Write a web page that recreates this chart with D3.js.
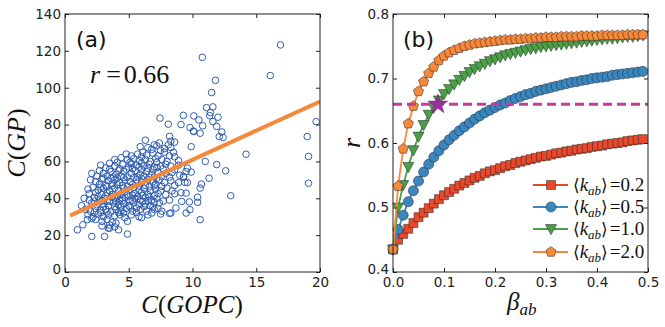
<!DOCTYPE html>
<html><head><meta charset="utf-8">
<script src="https://cdn.jsdelivr.net/npm/d3@7"></script>
<style>body{margin:0;background:#fff}svg{display:block}</style></head>
<body><svg id="c" width="665" height="327"></svg>
<script>
// ---------- Panel (a) data ----------
const scatterPts = [
 [10.77,116.5],[16.9,123.2],[16.1,106.6],[11.8,104],[11.5,97.4],[11.1,89.2],[11.6,89.6],[11.4,86.5],[11.35,84.8],[12.0,84],
 [11.6,81.6],[11.9,79],[12.3,76],[12.1,73.5],[12.4,73],[10.1,84.7],[10.5,82.5],[10.8,79.3],[10.07,76.5],[9.8,78.4],
 [9.28,85],[9.1,80],[10.6,75.3],[10.1,76.2],[7.45,83.5],[8.1,80.2],[19.7,81.6],[19.0,73.5],[19.1,62.7],[19.1,48.2],
 [14.2,63.9],[13.0,41.4],[12.6,54.9],[11.9,58.3],[11.3,50.9],[11.0,60],[10.7,47.7],[10.6,45.5],[10.4,40.6],[10.4,37.8],
 [10.6,28.4],[9.9,54.2],[9.9,68],[9.6,56.4],[9.3,51.8],[9.4,48.6],[9.5,42.8],[9.15,38.3],[9.75,38],[9.8,33.8],
 [9.5,32],[8.7,34.7],[8.3,32],[0.97,22.9],[1.4,25.6],[2.1,19.3],[3.1,19.3],[4.9,20.6],[4.2,22.9],[3.5,23.8],
 [1.3,36],[1.75,28.4],[8.2,73.6],[8.3,71],
 [6.3,71.5],[7.4,70],[7.0,69],[8.6,70.5],[5.9,68],[6.5,67.5],[7.2,68.5],[7.8,67],[8.1,69],[6.8,66.5],[7.5,66],[8.3,67.5],
 [5.2,63],[5.7,64],[6.1,65],[6.4,63.5],[6.9,64.5],[7.3,63],[7.8,65],[8.2,63],[8.6,62.5],[4.8,64],[6.0,62.5],[7.1,61.5],[8.5,65],
 [3.9,61],[4.4,62],[4.9,61],[5.4,61.5],[5.8,60.5],[6.3,61],[6.7,60],[7.6,61],[8.0,60],[8.9,60.5],[4.1,59.5],[5.1,59.5],[6.0,59],[7.2,59.5],[7.9,58.5],
 [2.8,58],[3.5,59],[3.9,57.5],[4.5,58.5],[5.0,57],[5.6,58],[6.2,57.5],[6.6,58.5],[7.0,57],[7.5,57.5],[8.3,57.5],[8.9,58],[3.2,56.5],[4.3,56],[5.3,56],[6.0,55.5],[6.9,55.5],[7.7,56],[8.6,55.5],
 [2.1,53.5],[2.7,55],[3.0,53.5],[3.6,54.5],[4.0,53],[4.6,54.5],[5.2,53.5],[5.5,55],[5.9,53],[6.4,54.5],[6.8,53],[7.3,54],[7.9,53.5],[8.4,54],[9.0,52.5],[9.5,54.5],
 [2.5,52],[3.3,52],[3.8,51.5],[4.4,52],[4.9,51.5],[5.7,51.5],[6.2,52],[7.0,51.5],[7.6,52],[8.2,51.5],[9.3,51.5],
 [2.0,50],[2.4,49],[2.9,50.5],[3.4,49.5],[3.9,50],[4.3,48.5],[4.7,50],[5.1,49],[5.6,50],[6.0,48.5],[6.5,50],[6.9,49],[7.4,50],[7.8,48.5],[8.3,49.5],[8.9,48.5],[9.6,48.5],
 [2.7,47.5],[3.2,47],[3.7,48],[4.5,47],[5.3,47.5],[6.3,47],[7.1,47.5],[7.6,46.5],[8.6,47],
 [1.8,45],[2.2,46],[2.6,44.5],[3.0,45.5],[3.5,44],[3.9,45.5],[4.2,44],[4.6,45.5],[5.0,44.5],[5.4,46],[5.8,44.5],[6.2,45.5],[6.7,44],[7.1,45],[7.5,44],[8.0,45.5],[8.4,44],[9.1,43],
 [1.9,42.5],[2.4,43],[2.9,42],[3.3,43],[3.7,42],[4.4,42.5],[4.9,42],[5.5,42.5],[6.0,43],[6.5,42],[7.3,42.5],[7.9,42],[8.6,42.5],
 [1.5,40],[1.9,39],[2.3,40.5],[2.7,39],[3.1,40],[3.5,38.5],[3.9,40],[4.3,39],[4.7,40.5],[5.1,38.5],[5.5,40],[5.9,39],[6.3,40.5],[6.8,39],[7.2,40],[7.7,38.5],[8.2,39],
 [2.1,37.5],[2.5,36.5],[3.0,37],[3.4,36],[3.8,37.5],[4.2,36.5],[4.6,37],[5.0,36],[5.4,37.5],[5.8,36.5],[6.3,37],[6.7,36],[7.4,37.5],
 [1.6,34],[2.0,33],[2.4,34.5],[2.8,33.5],[3.2,34],[3.6,32.5],[4.0,34],[4.4,33],[4.8,34.5],[5.3,33],[5.9,34],[6.4,33],[7.0,34],[7.6,33],[8.2,31.8],
 [1.8,31],[2.2,30],[2.6,31.5],[3.0,30],[3.4,31],[3.9,30.5],[4.3,31],[4.7,29.5],[5.2,31],[5.8,30],[6.0,29.5],[2.4,28.5],[2.9,27.5],[3.3,28.5],[3.7,27],[4.9,27.5],[2.1,29],[3.5,25.5],[4.0,26.5],
 [2.9,25],[3.4,23.8],[3.9,24.5],
 [2.6,41],[3.2,41.5],[3.7,40.8],[4.1,41.2],[4.5,40.2],[5.0,41],[5.3,41.7],[5.7,41],[6.1,41.4],[6.6,40.8],[7.0,41.5],
 [2.8,46],[3.3,46.3],[3.7,46.7],[4.1,47.5],[4.9,46.5],[5.8,46.7],[6.6,46.2],[7.0,46.8],
 [3.0,51],[3.6,50.8],[4.1,51],[4.6,51.3],[5.4,51.2],[6.0,50.8],[6.6,51.5],[7.2,50.8],
 [3.5,55.8],[4.2,55],[4.8,55.7],[5.2,58.8],[5.8,56.9],[6.5,56.3],[7.2,56.6],
 [2.3,38.5],[2.9,38.7],[3.3,38.2],[4.0,38.3],[4.5,38.7],[5.3,38.8],[6.1,38.2],[6.5,38.7],[7.0,37.8],
 [3.0,35.2],[3.9,35.5],[4.4,35.2],[5.1,35.3],[5.6,34.8],[6.2,35.5],[6.9,35.3],
 [2.3,32.5],[2.8,32.2],[3.3,32.6],[4.2,32.3],[4.6,32],[5.6,32.3],[6.8,32],[6.5,31],[7.5,31.5],[7.3,34.5]
];
const fitX = [0.4, 20];
const fitY = [30.6, 92.5];
const aXTicks = [0, 5, 10, 15, 20];
const aYTicks = [0, 20, 40, 60, 80, 100, 120, 140];

// ---------- Panel (b) data ----------
const betas = [0.00,0.01,0.02,0.03,0.04,0.05,0.06,0.07,0.08,0.09,0.10,0.11,0.12,0.13,0.14,0.15,0.16,0.17,0.18,0.19,
 0.20,0.21,0.22,0.23,0.24,0.25,0.26,0.27,0.28,0.29,0.30,0.31,0.32,0.33,0.34,0.35,0.36,0.37,0.38,0.39,
 0.40,0.41,0.42,0.43,0.44,0.45,0.46,0.47,0.48,0.49];
const rK02 = [0.435,0.450,0.459,0.467,0.476,0.485,0.492,0.499,0.506,0.513,0.519,0.524,0.529,0.534,0.538,0.542,0.546,0.549,0.553,0.556,
 0.558,0.561,0.564,0.566,0.569,0.571,0.573,0.575,0.577,0.579,0.580,0.582,0.584,0.585,0.587,0.588,0.590,0.591,0.592,0.594,
 0.595,0.596,0.598,0.599,0.600,0.601,0.603,0.604,0.605,0.606];
const rK05 = [0.435,0.466,0.488,0.509,0.526,0.541,0.555,0.567,0.578,0.588,0.597,0.605,0.612,0.619,0.625,0.631,0.637,0.642,0.647,0.651,
 0.655,0.659,0.662,0.666,0.669,0.672,0.675,0.677,0.680,0.682,0.684,0.686,0.688,0.690,0.692,0.694,0.695,0.697,0.698,0.700,
 0.701,0.702,0.703,0.705,0.706,0.707,0.708,0.709,0.710,0.711];
const rK10 = [0.435,0.500,0.535,0.563,0.589,0.610,0.628,0.644,0.655,0.666,0.676,0.684,0.691,0.698,0.704,0.710,0.715,0.719,0.723,0.727,
 0.730,0.733,0.736,0.738,0.740,0.742,0.744,0.746,0.747,0.749,0.750,0.751,0.752,0.753,0.754,0.755,0.756,0.757,0.758,0.759,
 0.760,0.761,0.762,0.762,0.763,0.764,0.765,0.765,0.766,0.767];
const rK20 = [0.435,0.533,0.591,0.630,0.657,0.680,0.695,0.708,0.718,0.728,0.735,0.740,0.744,0.747,0.750,0.752,0.754,0.755,0.756,0.757,
 0.758,0.759,0.760,0.760,0.761,0.761,0.762,0.762,0.763,0.763,0.764,0.764,0.764,0.765,0.765,0.765,0.765,0.766,0.766,0.766,
 0.766,0.767,0.767,0.767,0.767,0.767,0.768,0.768,0.768,0.768];
const seriesNames = ["0.2", "0.5", "1.0", "2.0"];
const seriesColors = ["#e8482c", "#3a87c0", "#4aa047", "#f7883a"];
const bXTicks = [0, 0.1, 0.2, 0.3, 0.4, 0.5];
const bYTicks = [0.4, 0.5, 0.6, 0.7, 0.8];
const threshold = 0.66;
const starPoint = [0.088, 0.66];

// ---------- Drawing ----------
const svg = d3.select("#c");
const tickFont = "'DejaVu Sans', sans-serif";
const serif = "'Liberation Serif', 'DejaVu Serif', serif";

function frameAxes(g, x, y, xt, yt, xfmt, yfmt) {
  const [x0, x1] = x.range(), [y0, y1] = y.range();
  const b = g.append("g").attr("transform", `translate(0,${y0})`)
    .call(d3.axisBottom(x).tickValues(xt).tickSize(-4).tickSizeOuter(0).tickPadding(5).tickFormat(xfmt));
  const l = g.append("g").attr("transform", `translate(${x0},0)`)
    .call(d3.axisLeft(y).tickValues(yt).tickSize(-4).tickSizeOuter(0).tickPadding(4).tickFormat(yfmt));
  const t = g.append("g").attr("transform", `translate(0,${y1})`)
    .call(d3.axisTop(x).tickValues(xt).tickSize(-4).tickSizeOuter(0).tickFormat(""));
  const r = g.append("g").attr("transform", `translate(${x1},0)`)
    .call(d3.axisRight(y).tickValues(yt).tickSize(-4).tickSizeOuter(0).tickFormat(""));
  [b, l, t, r].forEach(a => {
    a.select(".domain").remove();
    a.selectAll("line").attr("stroke", "#222");
    a.selectAll("text").attr("font-family", tickFont).attr("font-size", 13.5).attr("fill", "#222");
  });
  // lift the lowest y label slightly so it does not touch the first x label
  l.selectAll(".tick").filter(d => d === yt[0]).select("text").attr("dy", "0.1em");
  g.append("rect").attr("x", x0).attr("y", y1).attr("width", x1 - x0).attr("height", y0 - y1)
    .attr("fill", "none").attr("stroke", "#222").attr("stroke-width", 1);
}

// Panel (a)
const xa = d3.scaleLinear().domain([0, 20]).range([65, 320]);
const ya = d3.scaleLinear().domain([0, 140]).range([272, 14]);
const ga = svg.append("g");
ga.append("clipPath").attr("id", "clipA").append("rect")
  .attr("x", 65).attr("y", 14).attr("width", 255).attr("height", 258);
ga.append("g").selectAll("circle").data(scatterPts).join("circle")
  .attr("cx", d => xa(d[0])).attr("cy", d => ya(d[1])).attr("r", 3.3)
  .attr("fill", "none").attr("stroke", "#2f5db0").attr("stroke-width", 1);
ga.append("line").attr("clip-path", "url(#clipA)")
  .attr("x1", xa(fitX[0])).attr("y1", ya(fitY[0])).attr("x2", xa(fitX[1])).attr("y2", ya(fitY[1]))
  .attr("stroke", "#f5883a").attr("stroke-width", 4);
frameAxes(ga, xa, ya, aXTicks, aYTicks, d3.format("d"), d3.format("d"));
ga.append("text").attr("x", 76).attr("y", 47).attr("font-family", tickFont).attr("font-size", 22).attr("fill", "#111").text("(a)");
const rt = ga.append("text").attr("x", 90).attr("y", 83).attr("font-family", serif).attr("font-size", 26).attr("fill", "#111");
rt.append("tspan").attr("font-style", "italic").text("r");
rt.append("tspan").attr("dx", 6).text("=");
rt.append("tspan").attr("dx", 3).text("0.66");
// axis labels (a)
const xl = ga.append("text").attr("x", 192).attr("y", 313).attr("text-anchor", "middle").attr("font-family", serif).attr("font-size", 25).attr("fill", "#111");
xl.append("tspan").attr("font-style", "italic").text("C");
xl.append("tspan").text("(");
xl.append("tspan").attr("font-style", "italic").text("GOPC");
xl.append("tspan").text(")");
const yl = ga.append("text").attr("transform", "translate(25,143) rotate(-90)").attr("text-anchor", "middle").attr("font-family", serif).attr("font-size", 26).attr("fill", "#111");
yl.append("tspan").attr("font-style", "italic").text("C");
yl.append("tspan").text("(");
yl.append("tspan").attr("font-style", "italic").text("GP");
yl.append("tspan").text(")");

// Panel (b)
const xb = d3.scaleLinear().domain([0, 0.5]).range([393, 648]);
const yb = d3.scaleLinear().domain([0.4, 0.8]).range([272, 14]);
const gb = svg.append("g");
const allSeries = [rK02, rK05, rK10, rK20];
function markerPath(i, size) {
  if (i === 0) return d3.symbol(d3.symbolSquare, size)();
  if (i === 1) return d3.symbol(d3.symbolCircle, size)();
  if (i === 2) { const s = Math.sqrt(size) * 0.62; return `M${-s},${-s * 0.8}L${s},${-s * 0.8}L0,${s * 1.05}Z`; }
  const R = Math.sqrt(size) * 0.6; let p = "";
  for (let k = 0; k < 5; k++) { const a = -Math.PI / 2 + k * 2 * Math.PI / 5; p += (k ? "L" : "M") + (R * Math.cos(a)).toFixed(2) + "," + (R * Math.sin(a)).toFixed(2); }
  return p + "Z";
}
const mSize = 80;
const line = d3.line().x((d, i) => xb(betas[i])).y(d => yb(d));
allSeries.forEach((vals, i) => {
  const g = gb.append("g");
  g.append("path").datum(vals).attr("d", line).attr("fill", "none").attr("stroke", seriesColors[i]).attr("stroke-width", 1.8);
  g.selectAll("path.m").data(vals).join("path").attr("class", "m")
    .attr("transform", (d, k) => `translate(${xb(betas[k])},${yb(d)})`)
    .attr("d", markerPath(i, mSize)).attr("fill", seriesColors[i]).attr("stroke", "#222").attr("stroke-width", 0.5);
});
gb.append("line").attr("x1", xb(0)).attr("x2", xb(0.5)).attr("y1", yb(threshold)).attr("y2", yb(threshold))
  .attr("stroke", "#c13c9e").attr("stroke-width", 3).attr("stroke-dasharray", "9,5");
gb.append("path").attr("transform", `translate(${xb(starPoint[0])},${yb(starPoint[1])})`)
  .attr("d", d3.symbol(d3.symbolStar, 120)()).attr("fill", "#9b2f9e").attr("stroke", "#6a1a6a").attr("stroke-width", 0.5);
frameAxes(gb, xb, yb, bXTicks, bYTicks, d3.format(".1f"), d3.format(".1f"));
gb.append("text").attr("x", 403).attr("y", 47).attr("font-family", tickFont).attr("font-size", 22).attr("fill", "#111").text("(b)");
gb.append("text").attr("transform", "translate(360,143) rotate(-90)").attr("text-anchor", "middle")
  .attr("font-family", serif).attr("font-size", 26).attr("font-style", "italic").attr("fill", "#111").text("r");
const bl = gb.append("text").attr("x", 507).attr("y", 310).attr("font-family", serif).attr("font-size", 25).attr("fill", "#111");
bl.append("tspan").attr("font-style", "italic").text("β");
bl.append("tspan").attr("font-style", "italic").attr("font-size", 17).attr("dy", 5).text("ab");

// legend
const legY = [185, 207, 229, 252];
seriesNames.forEach((nm, i) => {
  const g = gb.append("g");
  g.append("line").attr("x1", 533).attr("x2", 568).attr("y1", legY[i]).attr("y2", legY[i]).attr("stroke", seriesColors[i]).attr("stroke-width", 1.8);
  g.append("path").attr("transform", `translate(551,${legY[i]})`).attr("d", markerPath(i, mSize))
    .attr("fill", seriesColors[i]).attr("stroke", "#222").attr("stroke-width", 0.5);
  const t = g.append("text").attr("x", 573).attr("y", legY[i] + 6).attr("font-family", serif).attr("font-size", 19).attr("fill", "#111");
  t.append("tspan").attr("font-family", "'DejaVu Serif', serif").attr("font-size", 17).text("⟨");
  t.append("tspan").attr("font-style", "italic").text("k");
  t.append("tspan").attr("font-style", "italic").attr("font-size", 13).attr("dy", 4).text("ab");
  t.append("tspan").attr("dy", -4).attr("font-family", "'DejaVu Serif', serif").attr("font-size", 17).text("⟩");
  t.append("tspan").attr("dx", 2).text("=" + nm);
});
</script></body></html>
